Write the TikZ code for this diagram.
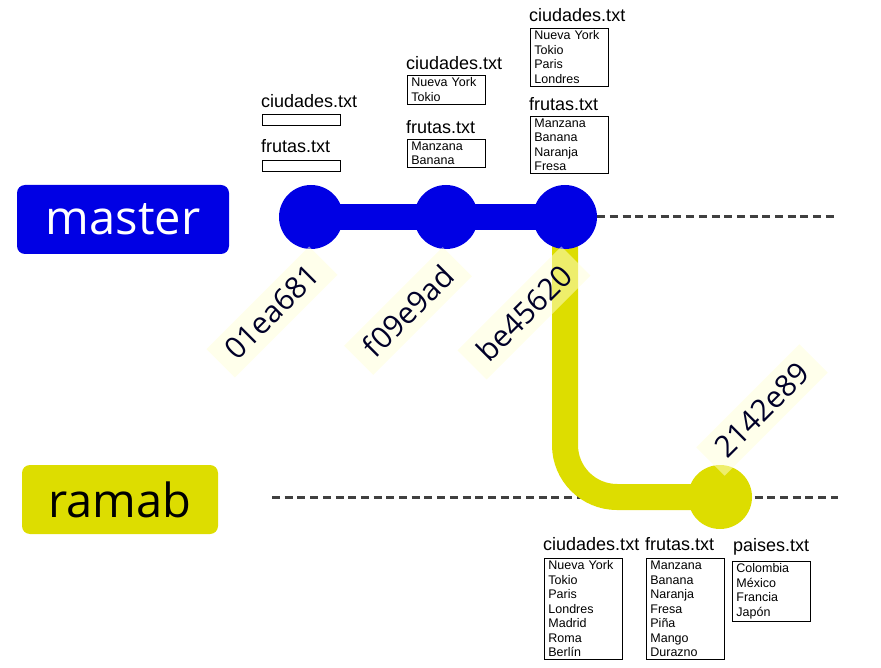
\documentclass[tikz,border=0pt]{standalone}
\usepackage{fontspec}
\setmainfont{Liberation Sans}
\newfontfamily\labelfont{Open Sans}
\usetikzlibrary{backgrounds}
\definecolor{gitblue}{RGB}{0,0,228}
\definecolor{gityellow}{RGB}{221,221,0}
\definecolor{tagbg}{RGB}{255,255,215}
\definecolor{dashgray}{RGB}{64,64,64}
\definecolor{hashink}{RGB}{0,0,40}
\tikzset{
  branch/.style={rounded corners=8pt, minimum height=69pt, inner sep=0pt, font=\labelfont\fontsize{47}{50}\selectfont},
  commit/.style={circle, inner sep=0pt, minimum size=64pt},
  hash/.style={rotate=45, fill=tagbg, fill opacity=0.5, text opacity=1, text=hashink, inner xsep=13pt, inner ysep=9pt, font=\labelfont\fontsize{30}{32}\selectfont},
  fname/.style={anchor=base west, inner sep=0pt, font=\fontsize{18}{20}\selectfont},
  fbox/.style={draw, line width=0.8pt, anchor=north west, inner xsep=4pt, inner ysep=2.5pt, text width=70pt, align=left, font=\fontsize{12.5}{14.5}\selectfont},
  ebox/.style={draw, line width=0.8pt, anchor=north west, inner sep=0pt, minimum width=78pt, minimum height=11pt},
  future/.style={draw=dashgray, line width=3pt, dash pattern=on 8pt off 4.7pt},
}
\begin{document}
\begin{tikzpicture}[x=1pt,y=-1pt]
\useasboundingbox (0,0) rectangle (881,668);
% branches
\node[branch, fill=gitblue, text=white, minimum width=212pt] (master) at (123,219.5) {master};
\node[branch, fill=gityellow, text=black, minimum width=196pt] (ramab) at (120,499.5) {ramab};

% commits
\node[commit, fill=gitblue] (c1) at (311,217) {};
\node[commit, fill=gitblue] (c2) at (446,217) {};
\node[commit, fill=gitblue] (c3) at (565,217) {};
\node[commit, fill=gityellow] (c4) at (720,497) {};

\coordinate (mfut) at (838,217);
\coordinate (rstart) at (272,497);
\coordinate (rfut) at (838,497);

\begin{scope}[on background layer]
\path[future] (c3) -- (mfut);
\path[future] (rstart) -- (rfut);
\path[draw=gityellow, line width=26pt, rounded corners=52pt] (c3.center) |- (c4.center);
\path[draw=gitblue, line width=26pt] (c1.center) -- (c3.center);
\end{scope}

% hashes
\node[hash] (h1) at (272,312) {01ea681};
\node[hash] (h2) at (408,311) {f09e9ad};
\node[hash] (h3) at (524,313) {be45620};
\node[hash] (h4) at (762,410) {2142e89};

% files at 01ea681
\node[fname] (cd1t) at (261,108) {ciudades.txt};
\node[ebox] (cd1) at (262,114) {};
\node[fname] (fr1t) at (261,153) {frutas.txt};
\node[ebox] (fr1) at (262,160) {};

% files at f09e9ad
\node[fname] (cd2t) at (406,70) {ciudades.txt};
\node[fbox] (cd2) at (407,75) {Nueva York\\Tokio};
\node[fname] (fr2t) at (406,134) {frutas.txt};
\node[fbox] (fr2) at (407,139) {Manzana\\Banana};

% files at be45620
\node[fname] (cd3t) at (529,22) {ciudades.txt};
\node[fbox] (cd3) at (530,28) {Nueva York\\Tokio\\Paris\\Londres};
\node[fname] (fr3t) at (529,111) {frutas.txt};
\node[fbox] (fr3) at (530,116) {Manzana\\Banana\\Naranja\\Fresa};

% files at 2142e89
\node[fname] (cd4t) at (543,550) {ciudades.txt};
\node[fbox] (cd4) at (544,558) {Nueva York\\Tokio\\Paris\\Londres\\Madrid\\Roma\\Berlín};
\node[fname] (fr4t) at (645,550) {frutas.txt};
\node[fbox] (fr4) at (646,558) {Manzana\\Banana\\Naranja\\Fresa\\Piña\\Mango\\Durazno};
\node[fname] (pa4t) at (733,551) {paises.txt};
\node[fbox] (pa4) at (732,561) {Colombia\\México\\Francia\\Japón};
\end{tikzpicture}
\end{document}
